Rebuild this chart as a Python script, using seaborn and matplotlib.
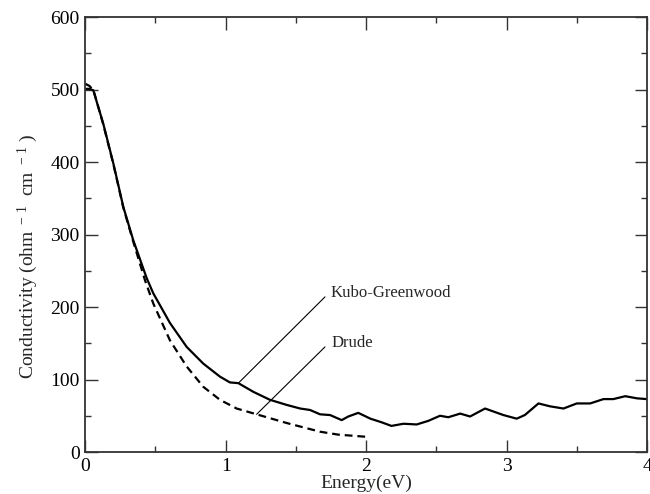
import matplotlib
matplotlib.use("Agg")
import matplotlib.pyplot as plt
from matplotlib.ticker import MultipleLocator
import seaborn as sns
import pandas as pd

# Kubo-Greenwood conductivity
energy_kg = [0.0, 0.03, 0.057, 0.128, 0.2, 0.271, 0.342, 0.437, 0.484, 0.603, 0.722, 0.84,
             0.959, 1.03, 1.09, 1.197, 1.315, 1.434, 1.53, 1.60, 1.672, 1.743, 1.826, 1.873,
             1.944, 2.03, 2.11, 2.18, 2.266, 2.36, 2.443, 2.526, 2.585, 2.67, 2.74, 2.847,
             2.977, 3.072, 3.13, 3.227, 3.31, 3.405, 3.5, 3.595, 3.69, 3.76, 3.845, 3.93, 4.0]
sigma_kg = [501, 501, 499, 453, 398, 338, 292, 240, 219, 178, 145, 122,
            104, 96, 95, 83, 72, 65, 60, 58, 52, 51, 44, 49,
            54, 46, 41, 36, 39, 38, 43, 50, 48, 53, 49, 60,
            51, 46, 51, 67, 63, 60, 67, 67, 73, 73, 77, 74, 73]

# Drude fit
energy_drude = [0.0, 0.03, 0.06, 0.128, 0.2, 0.271, 0.342, 0.425, 0.484, 0.603, 0.722,
                0.84, 0.959, 1.078, 1.22, 1.434, 1.672, 1.8, 2.0]
sigma_drude = [508, 505, 498, 452, 397, 337, 290, 237, 205, 154, 118,
               90, 72, 60, 52, 40, 28, 24, 21]

kg = pd.DataFrame({"Energy": energy_kg, "Sigma": sigma_kg})
drude = pd.DataFrame({"Energy": energy_drude, "Sigma": sigma_drude})

sns.set_style("ticks")
plt.rcParams['font.family'] = ['Liberation Serif', 'DejaVu Serif']
plt.rcParams['mathtext.fontset'] = 'custom'
plt.rcParams['mathtext.rm'] = 'Liberation Serif'
plt.rcParams['mathtext.it'] = 'Liberation Serif:italic'

fig = plt.figure(figsize=(6.5, 4.94), dpi=100)
ax = fig.add_axes([0.1312, 0.085, 0.8642, 0.8804])

sns.lineplot(data=kg, x="Energy", y="Sigma", ax=ax, color="black", lw=1.6,
             sort=False, estimator=None)
sns.lineplot(data=drude, x="Energy", y="Sigma", ax=ax, color="black", lw=1.6,
             sort=False, estimator=None, linestyle=(0, (3.5, 2.2)))

ax.set_xlim(0, 4)
ax.set_ylim(0, 600)
ax.xaxis.set_major_locator(MultipleLocator(1))
ax.xaxis.set_minor_locator(MultipleLocator(0.5))
ax.yaxis.set_major_locator(MultipleLocator(100))
ax.yaxis.set_minor_locator(MultipleLocator(50))
ax.tick_params(which='both', direction='in', top=True, right=True,
               colors='#333333', labelcolor='black', labelsize=14, width=1)
ax.tick_params(which='major', length=9, pad=4)
ax.tick_params(which='minor', length=4.5)
for s in ax.spines.values():
    s.set_color('#333333')
    s.set_linewidth(1.3)

ax.set_xlabel("Energy(eV)", fontsize=14, labelpad=0)
ax.set_ylabel("Conductivity (ohm $^{\\rm -\\,1}$  cm $^{\\rm -\\,1}$ )", fontsize=14)
ax.yaxis.set_label_coords(-0.081, 0.45)

# labels with leader lines
ax.annotate('', xy=(1.09, 95), xytext=(1.707, 214),
            arrowprops=dict(arrowstyle='-', lw=0.8, color='black', shrinkA=0, shrinkB=0))
ax.text(1.743, 219, 'Kubo-Greenwood', fontsize=12, va='center', ha='left')
ax.annotate('', xy=(1.22, 52), xytext=(1.707, 145),
            arrowprops=dict(arrowstyle='-', lw=0.8, color='black', shrinkA=0, shrinkB=0))
ax.text(1.755, 150, 'Drude', fontsize=12, va='center', ha='left')

fig.savefig("out.png", dpi=100)
